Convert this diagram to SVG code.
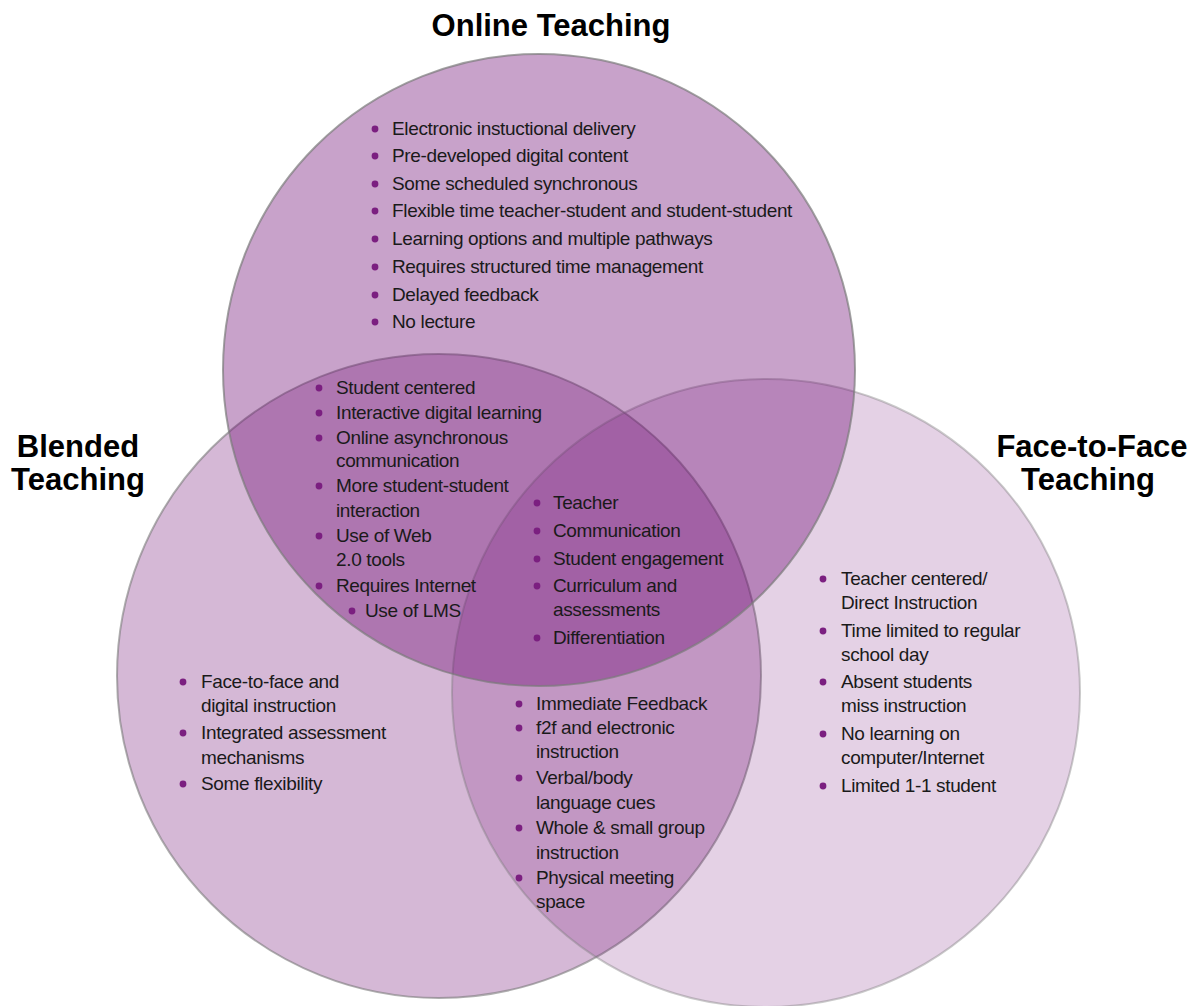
<svg xmlns="http://www.w3.org/2000/svg" width="1192" height="1006" viewBox="0 0 1192 1006">
  <style>
    .set { fill: #6e0a73; }
    .top { fill-opacity: 0.38; stroke: #7a7a7a; stroke-opacity: 0.7; stroke-width: 2; }
    .left { fill-opacity: 0.29; stroke: #7a7a7a; stroke-opacity: 0.6; stroke-width: 2; }
    .right { fill-opacity: 0.19; stroke: #7a7a7a; stroke-opacity: 0.4; stroke-width: 2; }
    .title { font-family: "Liberation Sans", Arial, sans-serif; font-weight: bold; font-size: 31px; fill: #000; text-anchor: middle; }
    .item { font-family: "Liberation Sans", Arial, sans-serif; font-size: 19px; letter-spacing: -0.35px; fill: #1a1a1a; }
    .dot { fill: #7b1f80; }
  </style>
  <rect width="1192" height="1006" fill="#ffffff"/>

  <!-- Venn circles -->
  <g id="circle-blended"><circle class="set left" cx="439" cy="676" r="322"/></g>
  <g id="circle-f2f"><circle class="set right" cx="766" cy="693" r="314"/></g>
  <g id="circle-online"><circle class="set top" cx="539" cy="370" r="316"/></g>

  <!-- Set titles -->
  <g id="title-online"><text class="title" x="551" y="36">Online Teaching</text></g>
  <g id="title-blended">
    <text class="title" x="78" y="457">Blended</text>
    <text class="title" x="78" y="490">Teaching</text>
  </g>
  <g id="title-f2f">
    <text class="title" x="1092" y="457">Face-to-Face</text>
    <text class="title" x="1088" y="490">Teaching</text>
  </g>

  <!-- Online only -->
  <g id="list-online">
    <circle class="dot" cx="375" cy="129" r="3.4"/><text class="item" x="392" y="135">Electronic instuctional delivery</text>
    <circle class="dot" cx="375" cy="156" r="3.4"/><text class="item" x="392" y="162">Pre-developed digital content</text>
    <circle class="dot" cx="375" cy="184" r="3.4"/><text class="item" x="392" y="190">Some scheduled synchronous</text>
    <circle class="dot" cx="375" cy="211" r="3.4"/><text class="item" x="392" y="217">Flexible time teacher-student and student-student</text>
    <circle class="dot" cx="375" cy="239" r="3.4"/><text class="item" x="392" y="245">Learning options and multiple pathways</text>
    <circle class="dot" cx="375" cy="267" r="3.4"/><text class="item" x="392" y="273">Requires structured time management</text>
    <circle class="dot" cx="375" cy="295" r="3.4"/><text class="item" x="392" y="301">Delayed feedback</text>
    <circle class="dot" cx="375" cy="322" r="3.4"/><text class="item" x="392" y="328">No lecture</text>
  </g>

  <!-- Online and Blended -->
  <g id="list-online-blended">
    <circle class="dot" cx="319" cy="388" r="3.4"/><text class="item" x="336" y="394">Student centered</text>
    <circle class="dot" cx="319" cy="413" r="3.4"/><text class="item" x="336" y="419">Interactive digital learning</text>
    <circle class="dot" cx="319" cy="438" r="3.4"/><text class="item" x="336" y="444">Online asynchronous</text>
    <text class="item" x="336" y="467">communication</text>
    <circle class="dot" cx="319" cy="486" r="3.4"/><text class="item" x="336" y="492">More student-student</text>
    <text class="item" x="336" y="517">interaction</text>
    <circle class="dot" cx="319" cy="536" r="3.4"/><text class="item" x="336" y="542">Use of Web</text>
    <text class="item" x="336" y="566">2.0 tools</text>
    <circle class="dot" cx="319" cy="586" r="3.4"/><text class="item" x="336" y="592">Requires Internet</text>
    <circle class="dot" cx="352" cy="611" r="3.4"/><text class="item" x="365" y="617">Use of LMS</text>
  </g>

  <!-- All three -->
  <g id="list-all">
    <circle class="dot" cx="537" cy="503" r="3.4"/><text class="item" x="553" y="509">Teacher</text>
    <circle class="dot" cx="537" cy="531" r="3.4"/><text class="item" x="553" y="537">Communication</text>
    <circle class="dot" cx="537" cy="559" r="3.4"/><text class="item" x="553" y="565">Student engagement</text>
    <circle class="dot" cx="537" cy="586" r="3.4"/><text class="item" x="553" y="592">Curriculum and</text>
    <text class="item" x="553" y="616">assessments</text>
    <circle class="dot" cx="537" cy="638" r="3.4"/><text class="item" x="553" y="644">Differentiation</text>
  </g>

  <!-- Blended only -->
  <g id="list-blended">
    <circle class="dot" cx="183" cy="682" r="3.4"/><text class="item" x="201" y="688">Face-to-face and</text>
    <text class="item" x="201" y="712">digital instruction</text>
    <circle class="dot" cx="183" cy="733" r="3.4"/><text class="item" x="201" y="739">Integrated assessment</text>
    <text class="item" x="201" y="764">mechanisms</text>
    <circle class="dot" cx="183" cy="784" r="3.4"/><text class="item" x="201" y="790">Some flexibility</text>
  </g>

  <!-- Blended and Face-to-Face -->
  <g id="list-blended-f2f">
    <circle class="dot" cx="519" cy="704" r="3.4"/><text class="item" x="536" y="710">Immediate Feedback</text>
    <circle class="dot" cx="519" cy="728" r="3.4"/><text class="item" x="536" y="734">f2f and electronic</text>
    <text class="item" x="536" y="758">instruction</text>
    <circle class="dot" cx="519" cy="778" r="3.4"/><text class="item" x="536" y="784">Verbal/body</text>
    <text class="item" x="536" y="809">language cues</text>
    <circle class="dot" cx="519" cy="828" r="3.4"/><text class="item" x="536" y="834">Whole &amp; small group</text>
    <text class="item" x="536" y="859">instruction</text>
    <circle class="dot" cx="519" cy="878" r="3.4"/><text class="item" x="536" y="884">Physical meeting</text>
    <text class="item" x="536" y="908">space</text>
  </g>

  <!-- Face-to-Face only -->
  <g id="list-f2f">
    <circle class="dot" cx="823" cy="579" r="3.4"/><text class="item" x="841" y="585">Teacher centered/</text>
    <text class="item" x="841" y="609">Direct Instruction</text>
    <circle class="dot" cx="823" cy="631" r="3.4"/><text class="item" x="841" y="637">Time limited to regular</text>
    <text class="item" x="841" y="661">school day</text>
    <circle class="dot" cx="823" cy="682" r="3.4"/><text class="item" x="841" y="688">Absent students</text>
    <text class="item" x="841" y="712">miss instruction</text>
    <circle class="dot" cx="823" cy="734" r="3.4"/><text class="item" x="841" y="740">No learning on</text>
    <text class="item" x="841" y="764">computer/Internet</text>
    <circle class="dot" cx="823" cy="786" r="3.4"/><text class="item" x="841" y="792">Limited 1-1 student</text>
  </g>
</svg>
